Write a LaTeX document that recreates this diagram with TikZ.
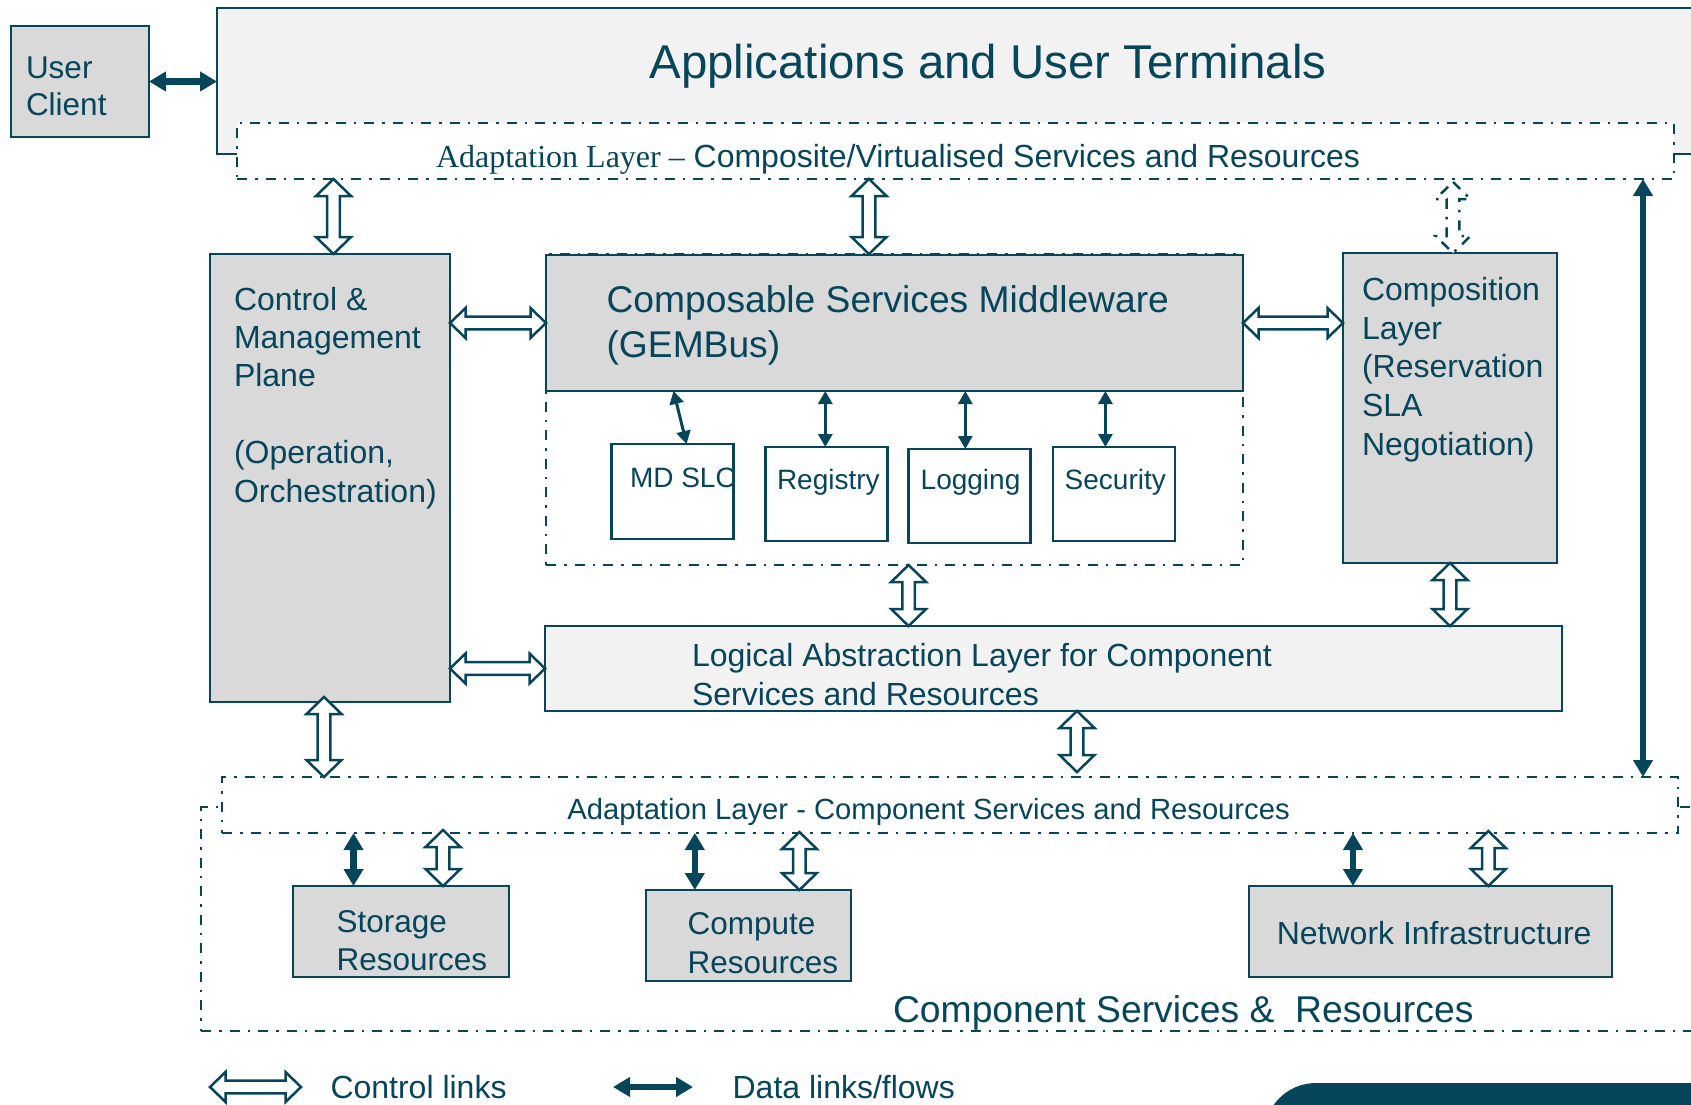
\documentclass[tikz,border=0pt]{standalone}
\usepackage{fontspec}
\setmainfont{Liberation Sans}
\newfontfamily\seriffont{Liberation Serif}
\usetikzlibrary{arrows.meta,calc}
\definecolor{ink}{RGB}{7,69,90}
\definecolor{boxgray}{RGB}{217,217,217}
\definecolor{paler}{RGB}{242,242,242}
\newcommand\fs[2]{\fontsize{#1pt}{#2pt}\selectfont}

\begin{document}
\begin{tikzpicture}[x=1pt,y=-1pt,
  every node/.style={inner sep=0pt, outer sep=0pt, text=ink},
  panel/.style={draw=ink, line width=2.5pt, anchor=north west},
  greybox/.style={panel, fill=boxgray},
  palebox/.style={panel, fill=paler},
  whitebox/.style={panel, fill=white},
  dashdot/.style={draw=ink, line width=2.5pt, dash pattern=on 10pt off 8pt on 2.5pt off 8pt},
  zone/.style={dashdot, anchor=north west},
  % multi-line text is placed by the baseline of its last line
  txt/.style={anchor=base west, align=left},
  datalink/.style={draw=ink, line width=6.5pt,
    {Triangle[width=19pt,length=17pt]}-{Triangle[width=19pt,length=17pt]}},
  busflow/.style={draw=ink, line width=3pt,
    {Triangle[width=14pt,length=13pt]}-{Triangle[width=14pt,length=13pt]}},
  % hollow double arrow drawn as an outlined polygon between two points
  ctrlshape/.style={draw=ink, fill=white, line width=2.5pt, line join=miter,
    to path={
     -- ($(\tikztostart)!\aL!(\tikztotarget)!\aH!90:(\tikztotarget)$)
     -- ($(\tikztostart)!\aL!(\tikztotarget)!\aS!90:(\tikztotarget)$)
     -- ($(\tikztotarget)!\aL!(\tikztostart)!\aS!-90:(\tikztostart)$)
     -- ($(\tikztotarget)!\aL!(\tikztostart)!\aH!-90:(\tikztostart)$)
     -- (\tikztotarget)
     -- ($(\tikztotarget)!\aL!(\tikztostart)!\aH!90:(\tikztostart)$)
     -- ($(\tikztotarget)!\aL!(\tikztostart)!\aS!90:(\tikztostart)$)
     -- ($(\tikztostart)!\aL!(\tikztotarget)!\aS!-90:(\tikztotarget)$)
     -- ($(\tikztostart)!\aL!(\tikztotarget)!\aH!-90:(\tikztotarget)$)
     -- cycle}},
  ctrlv/.style={ctrlshape, /utils/exec={\def\aL{17pt}\def\aH{17.5pt}\def\aS{6.3pt}}},
  ctrlh/.style={ctrlshape, /utils/exec={\def\aL{15.5pt}\def\aH{15pt}\def\aS{6.3pt}}},
]
\useasboundingbox (0,0) rectangle (1691,1105);
\clip (0,0) rectangle (1691,1105);

% ---------- top: applications ----------
\node[greybox, minimum width=138pt, minimum height=111pt] (uc) at (11,26) {};
\node[txt, font=\fs{31.5}{37.7}] (uctxt) at (26,116) {User\\Client};

\node[palebox, minimum width=1520pt, minimum height=146pt] (app) at (217,8) {};
\node[anchor=base, font=\fs{47.4}{56}] (apptitle) at (988,79) {Applications and User Terminals};

\node[zone, fill=white, minimum width=1437pt, minimum height=56pt] (adtop) at (237,123) {};
\node[txt, font=\fs{32}{38}] (adtoptxt) at (436,167.3)
  {{\seriffont Adaptation Layer –} Composite/Virtualised Services and Resources};

% ---------- middle ----------
\node[greybox, minimum width=240pt, minimum height=448pt] (ctrl) at (210,254) {};
\node[txt, font=\fs{32}{38.4}] (ctrltxt) at (234,502)
  {Control \&\\Management\\Plane\\[38.4pt](Operation,\\Orchestration)};

\node[zone, minimum width=697pt, minimum height=311pt] (gemreg) at (546,254) {};
\node[greybox, minimum width=697pt, minimum height=136pt] (gem) at (546,255) {};
\node[txt, font=\fs{37.2}{45}] (gemtxt) at (606.6,357)
  {Composable Services Middleware\\(GEMBus)};

\node[whitebox, minimum width=122pt, minimum height=95pt] (mdslo) at (611.5,444) {};
\node[whitebox, minimum width=122pt, minimum height=94pt] (reg) at (765.6,447) {};
\node[whitebox, minimum width=122pt, minimum height=94pt] (logg) at (908.6,449) {};
\node[whitebox, minimum width=122pt, minimum height=94pt] (sec) at (1053,447) {};
\begin{scope}
  \clip (mdslo.north west) rectangle (mdslo.south east);
  \node[txt, font=\fs{28}{34}] (mdslotxt) at (630,487) {MD SLO};
\end{scope}
\node[txt, font=\fs{28}{34}] (regtxt) at (777,489) {Registry};
\node[txt, font=\fs{28}{34}] (loggtxt) at (920.7,489) {Logging};
\node[txt, font=\fs{28}{34}] (sectxt) at (1064.7,489) {Security};

\node[greybox, minimum width=214pt, minimum height=310pt] (comp) at (1343,253) {};
\node[txt, font=\fs{32}{38.6}] (comptxt) at (1362,455)
  {Composition\\Layer\\(Reservation\\SLA\\Negotiation)};

\node[palebox, minimum width=1017pt, minimum height=85pt] (lal) at (545,626) {};
\node[txt, font=\fs{32}{39}] (laltxt) at (692,705)
  {Logical Abstraction Layer for Component\\Services and Resources};

% ---------- bottom: component services ----------
\node[zone, minimum width=1530pt, minimum height=224pt] (frame) at (201,807) {};
\node[txt, font=\fs{37.3}{44}] (frametxt) at (893,1022.7) {Component Services \& \ Resources};

\node[zone, fill=white, minimum width=1456pt, minimum height=56pt] (adbot) at (222,777) {};
\node[anchor=base, font=\fs{29.2}{35}] (adbottxt) at (928.6,819.5)
  {Adaptation Layer - Component Services and Resources};

\node[greybox, minimum width=216pt, minimum height=91pt] (stor) at (293,886) {};
\node[txt, font=\fs{31.5}{37.5}] (stortxt) at (336.6,970.2) {Storage\\Resources};
\node[greybox, minimum width=205pt, minimum height=91pt] (cmpt) at (646,890) {};
\node[txt, font=\fs{31.5}{38.3}] (cmpttxt) at (687.7,973) {Compute\\Resources};
\node[greybox, minimum width=363pt, minimum height=91pt] (net) at (1249,886) {};
\node[txt, font=\fs{32}{38}] (nettxt) at (1276.8,944.3) {Network Infrastructure};

% ---------- control links ----------
\draw[ctrlv] (333.5,0 |- adtop.south) to (333.5,0 |- ctrl.north);
\draw[ctrlv] (869,0 |- adtop.south) to (869,0 |- gemreg.north);
\draw[ctrlv, dash pattern=on 10pt off 8pt on 2.5pt off 8pt] (1453,182) to (1453,0 |- comp.north);
\draw[ctrlh] (gem.west -| ctrl.east) to (gem.west);
\draw[ctrlh] (gem.east) to (gem.east -| comp.west);
\draw[ctrlh] (lal.west -| ctrl.east) to (lal.west);
\draw[ctrlv] (908.6,0 |- gemreg.south) to (908.6,0 |- lal.north);
\draw[ctrlv] (comp.south) to (1450,0 |- lal.north);
\draw[ctrlv] (1077,0 |- lal.south) to (1077,772);
\draw[ctrlv] (324,697) to (324,0 |- adbot.north);
\draw[ctrlv] (443,830) to (443,0 |- stor.north);
\draw[ctrlv] (799.4,832) to (799.4,0 |- cmpt.north);
\draw[ctrlv] (1488.3,831) to (1488.3,0 |- net.north);

% ---------- data links ----------
\draw[datalink] (uc.east) -- (uc.east -| app.west);
\draw[datalink] (1643,0 |- adtop.south) -- (1643,0 |- adbot.north);
\draw[datalink] (353.5,0 |- adbot.south) -- (353.5,0 |- stor.north);
\draw[datalink] (694.8,0 |- adbot.south) -- (694.8,0 |- cmpt.north);
\draw[datalink] (1353,0 |- adbot.south) -- (1353,0 |- net.north);

\draw[busflow] (673.5,0 |- gem.south) -- (686.6,0 |- mdslo.north);
\draw[busflow] (825.3,0 |- gem.south) -- (825.3,0 |- reg.north);
\draw[busflow] (965.3,0 |- gem.south) -- (965.3,0 |- logg.north);
\draw[busflow] (1105.4,0 |- gem.south) -- (1105.4,0 |- sec.north);

% ---------- legend ----------
\coordinate (lgA) at (210,1087);
\coordinate (lgB) at (301,1087);
\draw[ctrlh] (lgA) to (lgB);
\node[txt, font=\fs{32}{38}] (lgctrl) at (330.5,1098) {Control links};
\coordinate (lgC) at (613,1087);
\coordinate (lgD) at (693,1087);
\draw[datalink] (lgC) -- (lgD);
\node[txt, font=\fs{32}{38}] (lgdata) at (732.6,1098) {Data links/flows};

% corner tab
\fill[ink, rounded corners=52pt] (1264,1083) rectangle (1800,1200);
\end{tikzpicture}
\end{document}
